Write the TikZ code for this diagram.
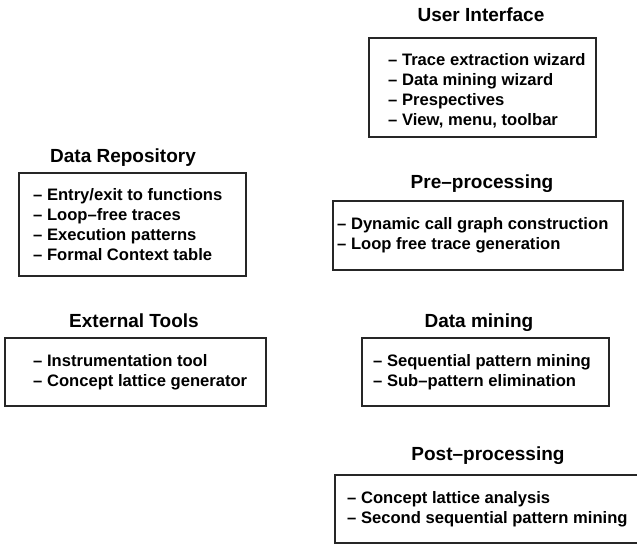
\documentclass[tikz,border=0pt]{standalone}
\usepackage{fontspec}
\setmainfont{Liberation Sans}
\begin{document}
\begin{tikzpicture}[x=1pt,y=-1pt,
  boxframe/.style={draw=black!85,line width=1.2pt},
  boxtitle/.style={font=\bfseries\fontsize{19}{23}\selectfont,inner sep=0pt,anchor=base},
  boxitems/.style={font=\bfseries\fontsize{16.6}{20}\selectfont,inner sep=0pt,align=left,anchor=base west}]
\useasboundingbox (0,0) rectangle (637,544);
% User Interface (anchor = baseline of last line)
\node[boxtitle] (uit) at (481,21) {User Interface};
\draw[boxframe] (369,38) rectangle (596,137);
\node[boxitems] (uii) at (388,125.5) {-- Trace extraction wizard\\-- Data mining wizard\\-- Prespectives\\-- View, menu, toolbar};
% Data Repository
\node[boxtitle] (drt) at (123,162) {Data Repository};
\draw[boxframe] (19,173) rectangle (246,276);
\node[boxitems] (dri) at (33,260.5) {-- Entry/exit to functions\\-- Loop--free traces\\-- Execution patterns\\-- Formal Context table};
% Pre-processing
\node[boxtitle] (prt) at (482,188) {Pre--processing};
\draw[boxframe] (333,201) rectangle (623,270);
\node[boxitems] (pri) at (337,249) {-- Dynamic call graph construction\\-- Loop free trace generation};
% External Tools
\node[boxtitle] (ett) at (134,327) {External Tools};
\draw[boxframe] (5,338) rectangle (266,406);
\node[boxitems] (eti) at (33,386) {-- Instrumentation tool\\-- Concept lattice generator};
% Data mining
\node[boxtitle] (dmt) at (479,327) {Data mining};
\draw[boxframe] (362,338) rectangle (609,406);
\node[boxitems] (dmi) at (373,386) {-- Sequential pattern mining\\-- Sub--pattern elimination};
% Post-processing
\node[boxtitle] (ppt) at (488,460) {Post--processing};
\draw[boxframe] (335,475) rectangle (645,543);
\node[boxitems] (ppi) at (347,523) {-- Concept lattice analysis\\-- Second sequential pattern mining};
\end{tikzpicture}
\end{document}
